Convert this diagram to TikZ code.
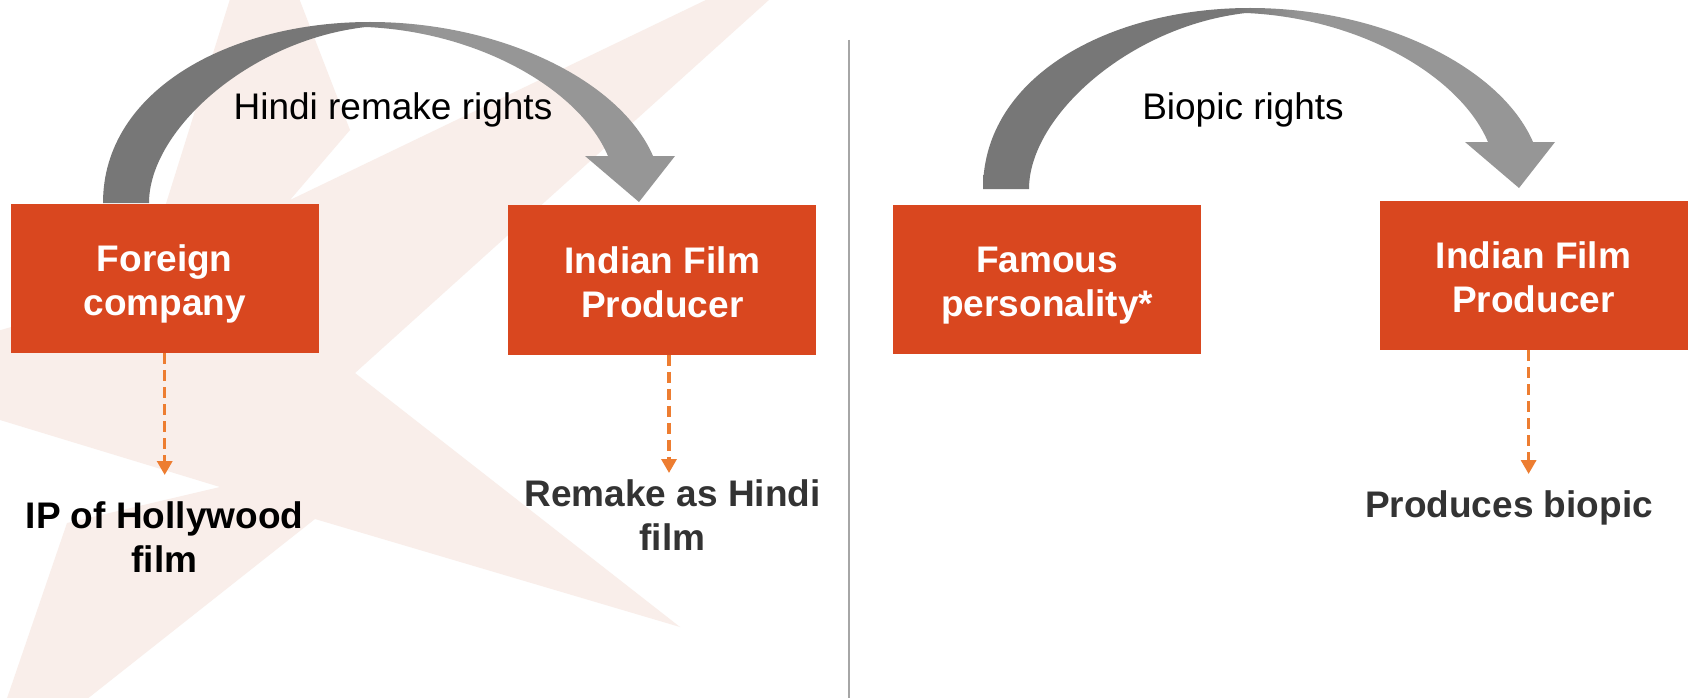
\documentclass[tikz,border=0pt]{standalone}
\usepackage{fontspec}
\setmainfont{Liberation Sans}
\usetikzlibrary{arrows.meta}

\definecolor{boxred}{HTML}{D9471F}
\definecolor{dashorange}{HTML}{ED7D31}
\definecolor{arcdark}{HTML}{777777}
\definecolor{arclight}{HTML}{969696}
\definecolor{starpale}{HTML}{F9EEEA}
\definecolor{rulegray}{HTML}{A6A6A6}
\definecolor{notegray}{HTML}{333333}

% dark left half, light right half of the curved block arrows
\pgfdeclarehorizontalshading{arcshade}{100bp}{color(0bp)=(arcdark); color(47bp)=(arcdark); color(53bp)=(arclight); color(100bp)=(arclight)}

% struts that fix the height of a two-line label block
\newcommand\hiStrut{\rule{0pt}{38pt}}
\newcommand\loStrut{\rule[-8pt]{0pt}{8pt}}

% curved block arrow from one party box to the other
\newcommand\rightsArrow{%
  \path[shading=arcshade] (103,203)
    .. controls (103,90) and (230,22) .. (370,22)
    .. controls (500,22) and (620,80) .. (653,156)
    -- (675,156) -- (639,202) -- (585,156) -- (608,156)
    .. controls (580,90) and (480,32) .. (366,27)
    .. controls (250,40) and (149,130) .. (149,203) -- cycle;}

\begin{document}
\begin{tikzpicture}[x=1pt,y=-1pt,
  party/.style={rectangle, fill=boxred, minimum width=308pt, minimum height=149.5pt,
    inner sep=0pt, text=white, align=center, font=\fontsize{37}{44}\selectfont\bfseries},
  outcome/.style={inner sep=0pt, align=center, font=\fontsize{37}{44}\selectfont\bfseries},
  rights/.style={inner sep=0pt, anchor=base, font=\fontsize{37}{44}\selectfont},
  flow/.style={draw=dashorange, line width=3.3pt, dash pattern=on 11pt off 6pt,
    -{Triangle[width=15pt,length=14pt]}}
]
\useasboundingbox (0,0) rectangle (1688,698);
\clip (0,0) rectangle (1688,698);
\fill[white] (0,0) rectangle (1688,698);

% pale star watermark
\fill[starpale] (261,-100) -- (350,130) -- (290,200) -- (841,-65) -- (355,373)
  -- (680,627) -- (315,519) -- (-23,786) -- (67,523) -- (220,487)
  -- (-151,374) -- (139,290) -- cycle;

% divider between the two cases
\draw[rulegray, line width=2pt] (849,40) -- (849,698);

% curved rights arrows
\rightsArrow
\begin{scope}[shift={(880,-14)}]
  \rightsArrow
\end{scope}

% parties
\node[party] (fc)  at (164.7,278.25) {\hiStrut Foreign\\company\loStrut};
\node[party] (ifp) at (662.25,280)   {\hiStrut Indian Film\\Producer\loStrut};
\node[party] (fp)  at (1047.2,279.5) {\hiStrut Famous\\personality*\loStrut};
\node[party] (ifq) at (1533.5,275.5) {\hiStrut Indian Film\\Producer\loStrut};

% rights labels
\node[rights] (hr) at (393,120)  {Hindi remake rights};
\node[rights] (br) at (1243,120) {Biopic rights};

% outcomes
\node[outcome, text=black]    (ip)  at (164.5,535) {\hiStrut IP of Hollywood\\film\loStrut};
\node[outcome, text=notegray] (rem) at (672.5,513) {\hiStrut Remake as Hindi\\film\loStrut};
\node[outcome, text=notegray, anchor=base] (bio) at (1509,517.5) {Produces biopic};

% dashed connectors
\coordinate (ipTip)  at (164.7,475);
\coordinate (remTip) at (669,473);
\coordinate (bioTip) at (1528.6,474);
\draw[flow] (fc.south)  -- (ipTip);
\draw[flow] (ifp.south -| remTip) -- (remTip);
\draw[flow] (ifq.south -| bioTip) -- (bioTip);
\end{tikzpicture}
\end{document}
